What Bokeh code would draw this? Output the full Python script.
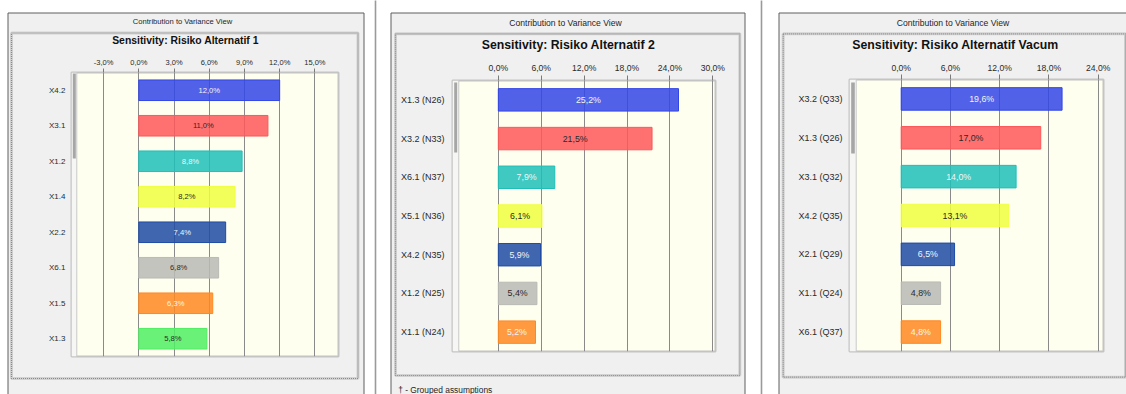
from bokeh.plotting import figure
from bokeh.models import (Range1d, ColumnDataSource, BoxAnnotation, Label,
                          CustomJSTickFormatter, FixedTicker)
from bokeh.embed import file_html
from bokeh.resources import INLINE
from bokeh.core.properties import value

# ---------------- data ----------------
header_text = "Contribution to Variance View"
footnote_text = "\u2020 - Grouped assumptions"

p1_title = "Sensitivity: Risiko Alternatif 1"
p1_cats = ["X4.2", "X3.1", "X1.2", "X1.4", "X2.2", "X6.1", "X1.5", "X1.3"]
p1_vals = [12.0, 11.0, 8.8, 8.2, 7.4, 6.8, 6.3, 5.8]
p1_ticks = [-3, 0, 3, 6, 9, 12, 15]

p2_title = "Sensitivity: Risiko Alternatif 2"
p2_cats = ["X1.3 (N26)", "X3.2 (N33)", "X6.1 (N37)", "X5.1 (N36)", "X4.2 (N35)", "X1.2 (N25)", "X1.1 (N24)"]
p2_vals = [25.2, 21.5, 7.9, 6.1, 5.9, 5.4, 5.2]
p2_ticks = [0, 6, 12, 18, 24, 30]

p3_title = "Sensitivity: Risiko Alternatif Vacum"
p3_cats = ["X3.2 (Q33)", "X1.3 (Q26)", "X3.1 (Q32)", "X4.2 (Q35)", "X2.1 (Q29)", "X1.1 (Q24)", "X6.1 (Q37)"]
p3_vals = [19.6, 17.0, 14.0, 13.1, 6.5, 4.8, 4.8]
p3_ticks = [0, 6, 12, 18, 24]

# ---------------- styles ----------------
FONT = "Liberation Sans"
bar_colors = ["#3246E6", "#FF5759", "#1FBFB7", "#F0FF40", "#1F4BA5", "#BABAB5", "#FF8821", "#50EE63"]
label_colors = ["#f4f4f4", "#2a2a2a", "#f4f4f4", "#2a2a2a", "#f4f4f4", "#2a2a2a", "#f4f4f4", "#2a2a2a"]
CREAM = "#FFFFF0"
BG = "#F0F0F0"
W, H = 1126, 394

fmt = CustomJSTickFormatter(code="return tick.toFixed(1).replace('.', ',') + '%';")

# layout of the three panels (pixel geometry of the window chrome)
PANELS = [
    dict(fig=(13, 52, 343, 324), frame=(71, 338, 72, 356), x0=138.3, scale=11.739,
         outer=(7.5, 363.5, 12.5), inner=(11, 357.5, 32.5, 378), cream_left=76.3,
         thumb=(72.3, 75.3, 73, 158), header=(182, 21, 7.6), title=(185, 40, 10.4),
         tick_out=4, tick_sd=2, tick_fs=7.5, y_standoff=6, y_fs=8, bar_fs=7.6),
    dict(fig=(397, 58, 340, 315), frame=(451, 715, 80, 351), x0=497, scale=7.177,
         outer=(390.5, 744.5, 12.5), inner=(395, 739.3, 33.3, 375), cream_left=457.3,
         thumb=(452.7, 455.7, 82, 152), header=(565, 22.8, 8.6), title=(568, 44.5, 12.3),
         tick_out=5, tick_sd=3, tick_fs=8.6, y_standoff=8, y_fs=9, bar_fs=8.8,
         foot=(397.7, 389, 8.4)),
    dict(fig=(785, 58, 338, 316), frame=(849, 1103, 79, 351), x0=900.7, scale=8.208,
         outer=(778.5, 1140, 12.5), inner=(782.7, 1125, 33.3, 376.7), cream_left=855.7,
         thumb=(850.7, 854.3, 82, 153), header=(952.5, 22.8, 8.6), title=(955, 44, 12.3),
         tick_out=5, tick_sd=2, tick_fs=8.6, y_standoff=7, y_fs=9, bar_fs=8.8),
]
SEPARATORS = [375, 761]


def place(p, left, top):
    p.styles = {"position": "absolute", "left": f"{left}px", "top": f"{top}px"}


# ---------------- background / window chrome ----------------
bg = figure(width=W, height=H, output_backend="svg", toolbar_location=None,
            x_range=Range1d(0, W), y_range=Range1d(H, 0), min_border=0,
            x_axis_location=None, y_axis_location=None, title=None)
bg.outline_line_color = None
bg.grid.visible = False
bg.background_fill_color = "white"
bg.border_fill_color = "white"
bg.quad(left=[s - 0.8 for s in SEPARATORS], right=[s + 0.8 for s in SEPARATORS],
        top=[-5] * len(SEPARATORS), bottom=[H + 5] * len(SEPARATORS),
        fill_color="#9a9a9a", line_color=None)
for L, title in zip(PANELS, [p1_title, p2_title, p3_title]):
    ol, orr, ot = L["outer"]
    bg.quad(left=[ol], right=[orr], top=[ot], bottom=[H + 10], fill_color=BG,
            line_color="#5f5f5f", line_width=1)
    il, ir, it, ib = L["inner"]
    bg.quad(left=[il], right=[ir], top=[it], bottom=[ib], fill_color=None,
            line_color="#d2d2d2", line_width=3)
    bg.quad(left=[il], right=[ir], top=[it], bottom=[ib], fill_color=None,
            line_color="#8a8a8a", line_width=1.2, line_dash="1 1")
    hx, hy, hs = L["header"]
    bg.add_layout(Label(x=hx, y=hy, text=header_text, text_font=FONT,
                        text_font_size=f"{hs}px", text_color="#1e1e1e",
                        text_align="center", text_baseline="middle"))
    tx, ty, ts = L["title"]
    bg.add_layout(Label(x=tx, y=ty, text=title, text_font=FONT, text_font_size=f"{ts}px",
                        text_font_style="bold", text_color="#111111",
                        text_align="center", text_baseline="middle"))
    if "foot" in L:
        fx, fy, fs = L["foot"]
        bg.add_layout(Label(x=fx, y=fy, text=footnote_text, text_font=FONT,
                            text_font_size=f"{fs}px", text_color="#1e1e1e",
                            text_align="left", text_baseline="middle"))
place(bg, 0, 0)


# ---------------- chart panels ----------------
def make_panel(cats, vals, ticks, L):
    gx, gy, w, h = L["fig"]
    fl, fr, ft, fb = L["frame"]
    x0, scale = L["x0"], L["scale"]
    xs = -(x0 - fl) / scale
    xe = xs + (fr - fl) / scale
    n = len(cats)
    pos = list(range(n))

    p = figure(width=w, height=h, output_backend="svg", toolbar_location=None,
               x_range=Range1d(xs, xe), y_range=Range1d(n - 0.5, -0.5),
               x_axis_location="above", title=None,
               min_border_left=int(round(fl - gx)), min_border_right=int(round(gx + w - fr)),
               min_border_top=int(round(ft - gy)), min_border_bottom=int(round(gy + h - fb)))
    p.extra_x_ranges = {"px": Range1d(fl, fr)}
    p.extra_y_ranges = {"px": Range1d(fb, ft)}
    p.border_fill_color = BG
    p.background_fill_color = CREAM
    p.outline_line_color = "#c4c4c4"
    p.outline_line_width = 2

    def box(**kw):
        b = BoxAnnotation(x_range_name="px", y_range_name="px", level="image", **kw)
        p.add_layout(b)

    cl = L["cream_left"]
    box(left=fl, right=cl, top=ft, bottom=fb, fill_color="#f6f6f4", fill_alpha=1,
        line_color=None)
    box(left=cl - 0.5, right=cl + 0.5, top=ft, bottom=fb, fill_color="#c8c8c8",
        fill_alpha=1, line_color=None)
    tl, tr, tt, tb = L["thumb"]
    box(left=tl, right=tr, top=tt, bottom=tb, fill_color="#a6a6a6", fill_alpha=1,
        line_color=None)

    p.xgrid.ticker = FixedTicker(ticks=ticks)
    p.xgrid.grid_line_color = "#8a8a8a"
    p.xgrid.grid_line_width = 1
    p.ygrid.grid_line_color = None

    ax = p.xaxis[0]
    ax.ticker = FixedTicker(ticks=ticks)
    ax.formatter = fmt
    ax.axis_line_color = None
    ax.major_tick_line_color = "#7a7a7a"
    ax.major_tick_in = 0
    ax.major_tick_out = L["tick_out"]
    ax.minor_tick_line_color = None
    ax.major_label_standoff = L["tick_sd"]
    ax.major_label_text_font = FONT
    ax.major_label_text_font_size = f"{L['tick_fs']}px"
    ax.major_label_text_color = "#2a2a2a"

    ay = p.yaxis[0]
    ay.ticker = FixedTicker(ticks=pos)
    ay.major_label_overrides = {i: c for i, c in zip(pos, cats)}
    ay.axis_line_color = None
    ay.major_tick_line_color = None
    ay.minor_tick_line_color = None
    ay.major_tick_out = 0
    ay.major_tick_in = 0
    ay.major_label_standoff = L["y_standoff"]
    ay.major_label_text_font = FONT
    ay.major_label_text_font_size = f"{L['y_fs']}px"
    ay.major_label_text_color = "#2a2a2a"

    src = ColumnDataSource(dict(
        pos=pos, val=vals, mid=[v / 2 for v in vals],
        lbl=[f"{v:.1f}".replace(".", ",") + "%" for v in vals],
        color=bar_colors[:n], tcolor=label_colors[:n]))
    p.hbar(y="pos", left=0, right="val", height=0.58, source=src, fill_color="color",
           fill_alpha=0.85, line_color="color", line_width=1)
    p.text(x="mid", y="pos", text="lbl", source=src, text_color="tcolor",
           text_font=value(FONT), text_font_size=f"{L['bar_fs']}px",
           text_align="center", text_baseline="middle")
    place(p, gx, gy)
    return p


p1 = make_panel(p1_cats, p1_vals, p1_ticks, PANELS[0])
p2 = make_panel(p2_cats, p2_vals, p2_ticks, PANELS[1])
p3 = make_panel(p3_cats, p3_vals, p3_ticks, PANELS[2])

open("out.html", "w").write(file_html([bg, p1, p2, p3], INLINE))
